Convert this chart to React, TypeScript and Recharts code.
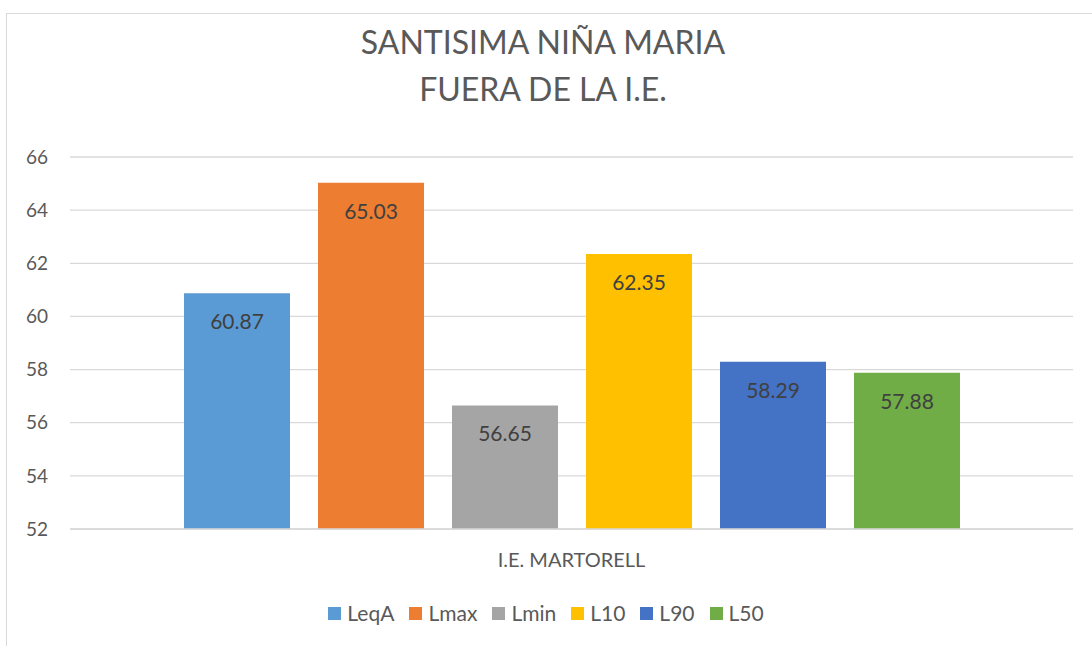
import { BarChart, Bar, XAxis, YAxis, CartesianGrid, LabelList } from "recharts";

const categories = ["I.E. MARTORELL"];
const seriesNames = ["LeqA", "Lmax", "Lmin", "L10", "L90", "L50"];
const seriesValues = [60.87, 65.03, 56.65, 62.35, 58.29, 57.88];
const seriesColors = ["#5B9BD5", "#ED7D31", "#A5A5A5", "#FFC000", "#4472C4", "#70AD47"];
const yTicks = [52, 54, 56, 58, 60, 62, 64, 66];

const data = categories.map((name) => {
    const row: Record<string, string | number> = { name };
    seriesNames.forEach((s, i) => {
        row[s] = seriesValues[i];
    });
    return row;
});

const FONT = "Lato, 'Open Sans', sans-serif";
const TEXT = "#595959";

export default function App() {
    return (
        <div
            style={{
                position: "absolute",
                left: 0,
                top: 0,
                width: 1092,
                height: 646,
                overflow: "hidden",
                background: "#fff",
                fontFamily: FONT,
            }}
        >
            <div
                style={{
                    position: "absolute",
                    left: 6,
                    top: 13,
                    width: 1100,
                    height: 650,
                    border: "1.5px solid #d9d9d9",
                    boxSizing: "border-box",
                }}
            />
            <div
                style={{
                    position: "absolute",
                    left: 0,
                    width: 1086,
                    top: 18,
                    textAlign: "center",
                    color: TEXT,
                    fontSize: 32,
                    lineHeight: "47px",
                }}
            >
                <div>SANTISIMA NIÑA MARIA</div>
                <div>FUERA DE LA I.E.</div>
            </div>
            <div style={{ position: "absolute", left: 0, top: 0 }}>
                <BarChart
                    width={1092}
                    height={646}
                    data={data}
                    margin={{ top: 157, right: 19, bottom: 87, left: 0 }}
                    barCategoryGap={114}
                    barGap={28}
                >
                    <CartesianGrid vertical={false} stroke="#d9d9d9" strokeWidth={1.3} />
                    <XAxis
                        dataKey="name"
                        height={30}
                        axisLine={{ stroke: "#d9d9d9", strokeWidth: 1.3 }}
                        tickLine={false}
                        tickSize={0}
                        tickMargin={24}
                        tick={{ fill: TEXT, fontSize: 20, fontFamily: FONT }}
                    />
                    <YAxis
                        width={70}
                        domain={[52, 66]}
                        ticks={yTicks}
                        allowDataOverflow
                        axisLine={false}
                        tickLine={false}
                        tickSize={0}
                        tickMargin={22}
                        tick={{ fill: TEXT, fontSize: 19, fontFamily: FONT }}
                    />
                    {seriesNames.map((s, i) => (
                        <Bar key={s} dataKey={s} fill={seriesColors[i]} isAnimationActive={false}>
                            <LabelList
                                dataKey={s}
                                position="insideTop"
                                offset={21}
                                fill="#404040"
                                fontSize={21}
                                fontFamily={FONT}
                            />
                        </Bar>
                    ))}
                </BarChart>
            </div>
            <div
                style={{
                    position: "absolute",
                    left: 0,
                    width: 1092,
                    top: 599,
                    display: "flex",
                    justifyContent: "center",
                    gap: 15,
                    fontSize: 21,
                    lineHeight: "28px",
                    color: TEXT,
                }}
            >
                {seriesNames.map((s, i) => (
                    <div key={s} style={{ display: "flex", alignItems: "center" }}>
                        <span
                            style={{
                                display: "inline-block",
                                width: 13,
                                height: 13,
                                background: seriesColors[i],
                                marginRight: 6,
                            }}
                        />
                        <span>{s}</span>
                    </div>
                ))}
            </div>
        </div>
    );
}
